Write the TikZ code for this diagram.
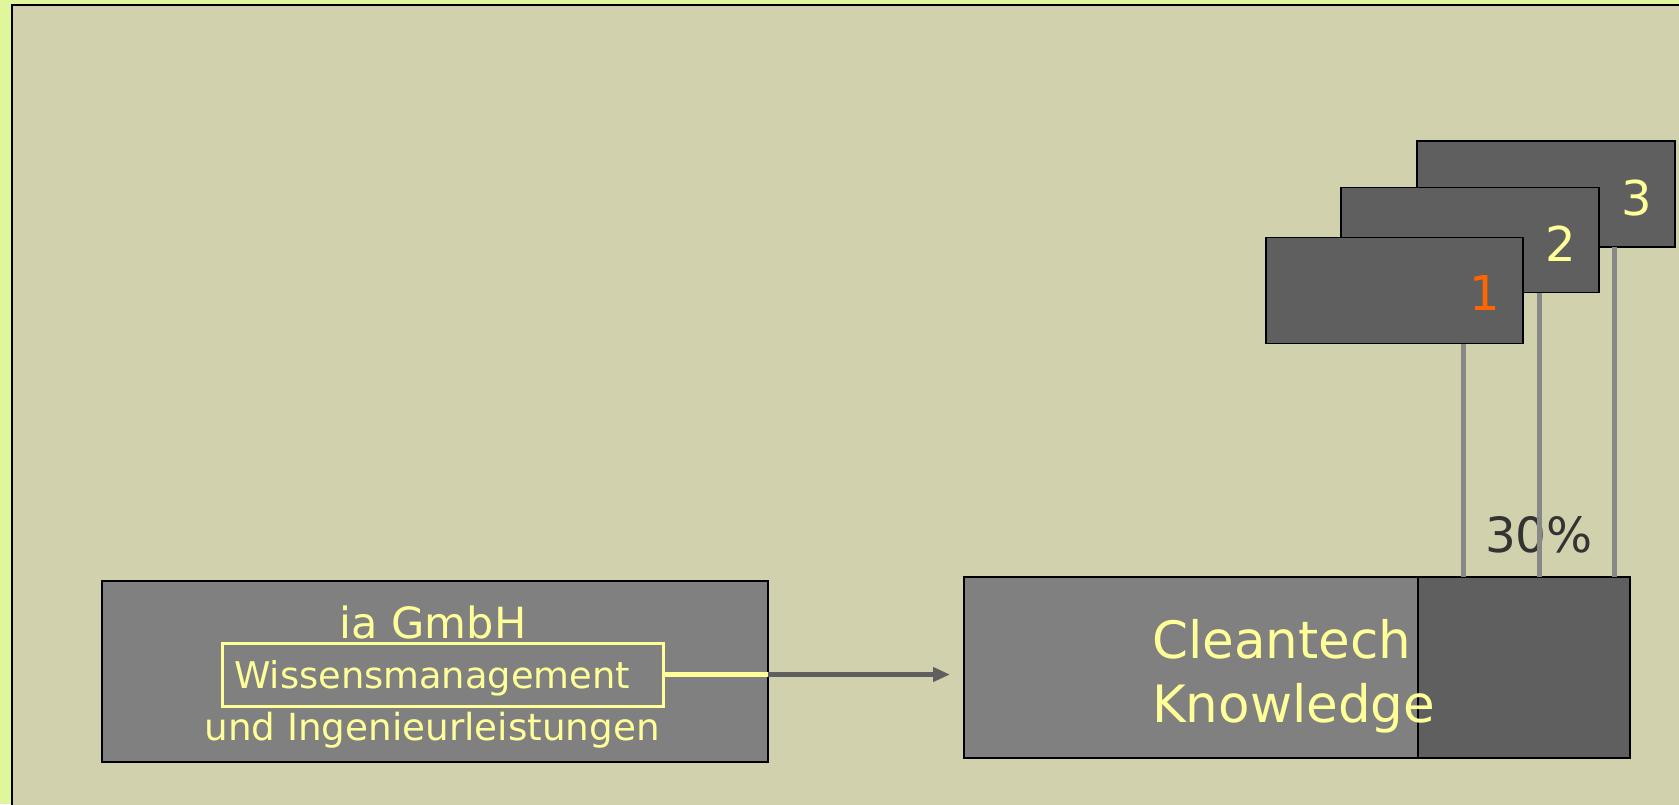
\documentclass[tikz,border=0pt]{standalone}
\usepackage{fontspec}
\setmainfont{DejaVu Sans}
\usetikzlibrary{arrows.meta}
\definecolor{outergreen}{HTML}{DFF69B}
\definecolor{bgbeige}{HTML}{D1D1AD}
\definecolor{boxgray}{HTML}{808080}
\definecolor{boxdark}{HTML}{5F5F5F}
\definecolor{txtyellow}{HTML}{FFFF99}
\definecolor{txtorange}{HTML}{FF6600}
\definecolor{linegray}{HTML}{888888}
\definecolor{pcttext}{HTML}{333333}
\tikzset{
  graybox/.style={draw=black, line width=1.5pt, fill=boxgray, anchor=north west, inner sep=0pt, outer sep=0pt},
  darkbox/.style={draw=black, line width=1.5pt, fill=boxdark, anchor=north west, inner sep=0pt, outer sep=0pt},
  ylabel/.style={text=txtyellow, anchor=base, inner sep=0pt},
  stake/.style={draw=linegray, line width=5pt},
}
\begin{document}
\begin{tikzpicture}[x=1pt,y=-1pt]
\useasboundingbox (0,0) rectangle (1679,804);
% background
\fill[outergreen] (0,0) rectangle (1679,804);
\fill[bgbeige] (12,5) rectangle (1700,830);
\draw[black, line width=2pt] (12,830) -- (12,5) -- (1700,5);

% left box
\node[graybox, minimum width=666pt, minimum height=181pt] (lbox) at (102,581) {};
\node[ylabel, font=\fontsize{43}{50}\selectfont] (iagmbh) at (433,638) {ia GmbH};
\node[draw=txtyellow, line width=3pt, anchor=north west, inner sep=0pt, outer sep=0pt,
      minimum width=441pt, minimum height=63pt] (wbox) at (222,643) {};
\node[text=txtyellow, anchor=base west, inner sep=0pt, font=\fontsize{36.8}{44}\selectfont] (wtext) at (234,688) {Wissensmanagement};
\node[ylabel, font=\fontsize{37.3}{44}\selectfont] (undtext) at (432,740) {und Ingenieurleistungen};

% big cleantech box
\node[graybox, minimum width=666pt, minimum height=181pt] (cbox) at (964,577) {};
\node[darkbox, minimum width=212pt, minimum height=181pt] (cdark) at (1418,577) {};
\node[text=txtyellow, anchor=base west, inner sep=0pt, font=\fontsize{51.5}{60}\selectfont] (clean) at (1152,658) {Cleantech};
\node[text=txtyellow, anchor=base west, inner sep=0pt, font=\fontsize{51.5}{60}\selectfont] (know) at (1152,722) {Knowledge};

% connector
\coordinate (ljoin) at (wbox.east -| lbox.east);
\coordinate (aend) at ([xshift=-14pt]wbox.east -| cbox.west);
\draw[txtyellow, line width=4.5pt] (wbox.east) -- (ljoin);
\draw[boxdark, line width=5pt, -{Triangle[length=17pt,width=14pt]}] (ljoin) -- (aend);

% project boxes
\node[darkbox, minimum width=258pt, minimum height=106pt] (b3) at (1417,141) {};
\node[darkbox, minimum width=258pt, minimum height=105pt] (b2) at (1341,187.5) {};
\node[darkbox, minimum width=257pt, minimum height=106pt] (b1) at (1266,237.5) {};
\node[text=txtorange, anchor=base, inner sep=0pt, font=\fontsize{48}{56}\selectfont] (l1) at (1485,310) {1};
\node[ylabel, font=\fontsize{48}{56}\selectfont] (l2) at (1561,261) {2};
\node[ylabel, font=\fontsize{48}{56}\selectfont] (l3) at (1637,215) {3};

% percentage
\node[text=pcttext, anchor=base, inner sep=0pt, font=\fontsize{48.5}{56}\selectfont] (pct) at (1539,552) {30\%};

% stakes
\draw[stake] (b1.south -| 1463,0) -- (cbox.north -| 1463,0);
\draw[stake] (b2.south -| 1539.5,0) -- (cbox.north -| 1539.5,0);
\draw[stake] (b3.south -| 1614.5,0) -- (cbox.north -| 1614.5,0);
\end{tikzpicture}
\end{document}
